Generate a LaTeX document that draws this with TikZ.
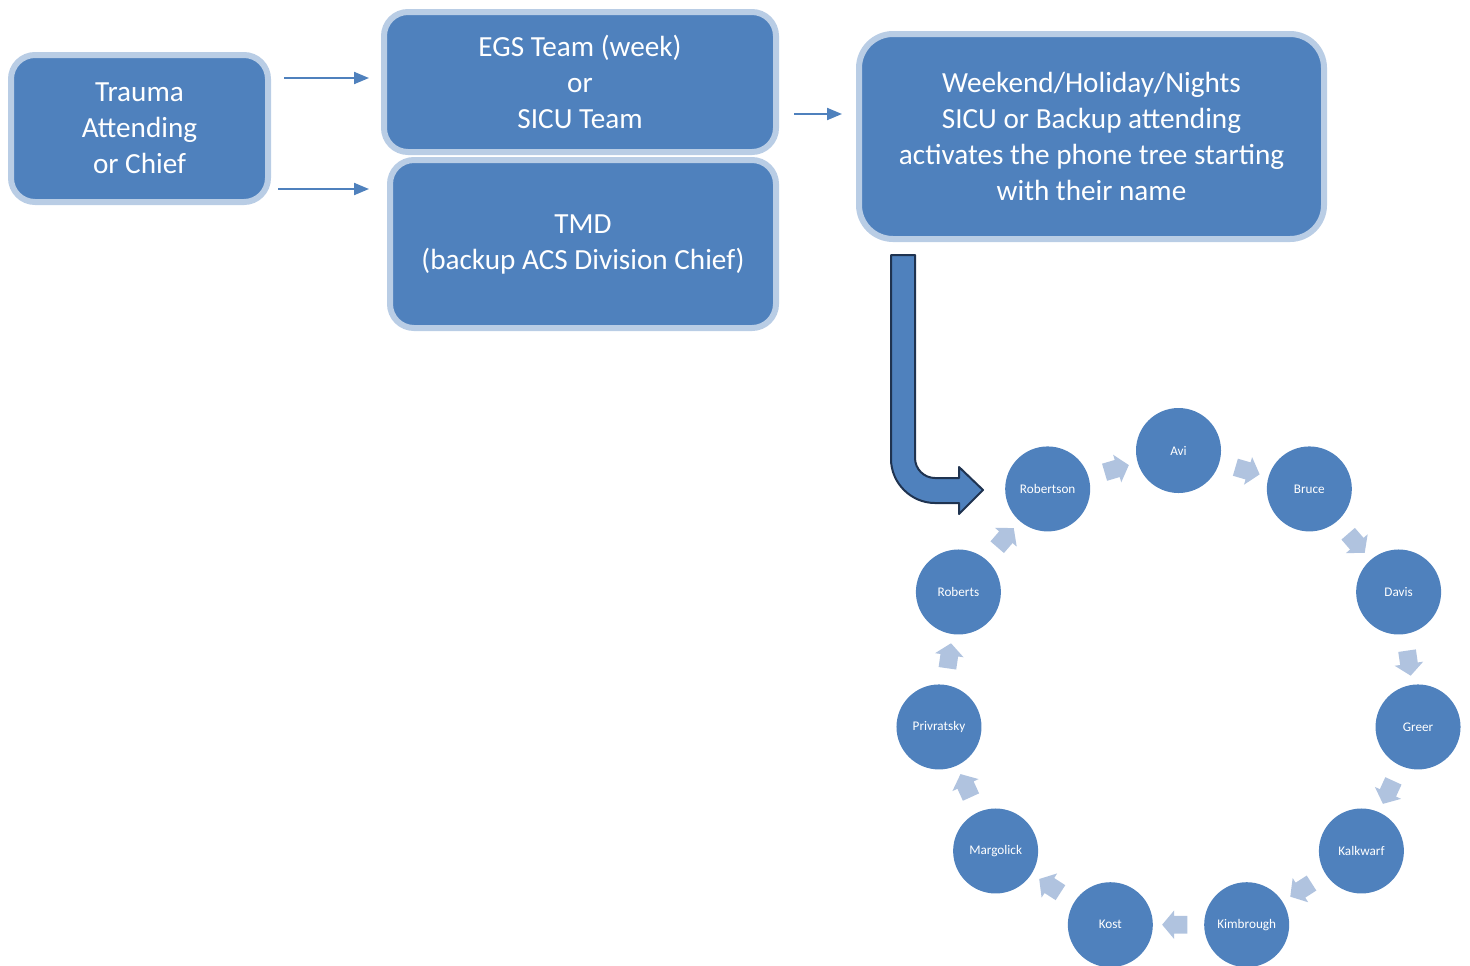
\documentclass[tikz,border=0pt]{standalone}
\usepackage{fontspec}
\setmainfont{Carlito}
\usetikzlibrary{arrows.meta,calc,shapes.arrows}

\definecolor{boxblue}{HTML}{4F81BD}
\definecolor{boxedge}{HTML}{B9CDE5}
\definecolor{hopblue}{HTML}{B0C3DF}
\definecolor{bentedge}{HTML}{1F3350}

\begin{document}
\begin{tikzpicture}[x=0.5pt, y=-0.5pt,
    box/.style={rectangle, rounded corners=12pt, fill=boxblue, draw=boxedge, line width=3pt,
        text=white, align=center, inner sep=0pt, font=\fontsize{14.6}{18}\selectfont},
    member/.style={circle, fill=boxblue, minimum size=42.5pt, inner sep=0pt,
        text=white, font=\fontsize{6.6}{8}\selectfont},
    hop/.style={single arrow, fill=hopblue, minimum height=12.5pt, inner sep=4.25pt,
        single arrow head extend=2.75pt, single arrow tip angle=100},
    link/.style={-{Triangle[length=7.5pt,width=6pt]}, draw=boxblue, line width=1pt}]
    \useasboundingbox (0,0) rectangle (1470,965);

    % boxes
    \node[box, minimum width=128.5pt, minimum height=73.5pt] (trauma) at (139.5,128.5) {Trauma\\Attending\\or Chief};
    \node[box, minimum width=196pt, minimum height=70pt] (egs) at (580,82) {EGS Team (week)\\or\\SICU Team};
    \node[box, minimum width=193pt, minimum height=84pt] (tmd) at (583,244) {TMD\\(backup ACS Division Chief)};
    \node[box, minimum width=232.5pt, minimum height=102.5pt, rounded corners=17pt] (wknd) at (1091.5,136.5)
        {Weekend/Holiday/Nights\\SICU or Backup attending\\activates the phone tree starting\\with their name};

    \coordinate (rowa) at (0,78);
    \coordinate (rowb) at (0,189);
    \coordinate (rowc) at (0,114);
    \draw[link, shorten <=6.5pt, shorten >=6pt] (trauma.east |- rowa) -- (egs.west |- rowa);
    \draw[link, shorten <=3.5pt, shorten >=9pt] (trauma.east |- rowb) -- (tmd.west |- rowb);
    \draw[link, shorten <=7.5pt, shorten >=7pt] (egs.east |- rowc) -- (wknd.west |- rowc);

    % bent arrow into the phone tree
    \draw[fill=boxblue, draw=bentedge, line width=1pt, line join=round]
        (891,255) -- (915,255) -- (915,458) .. controls (915,469) and (924,478) .. (935,478)
        -- (959,478) -- (959,467) -- (983,490) -- (959,514) -- (959,503) -- (935,503)
        .. controls (911,503) and (891,483) .. (891,459) -- cycle;

    % phone tree
    \coordinate (hub) at (1178.5,692.5);
    \foreach \who [count=\i from 0] in {Avi,Bruce,Davis,Greer,Kalkwarf,Kimbrough,Kost,Margolick,Privratsky,Roberts,Robertson} {
        \pgfmathsetmacro\a{-90+\i*360/11}
        \node[member] (m\i) at ([shift={(\a:242)}]hub) {\who};
    }
    \foreach \i in {0,...,10} {
        \pgfmathtruncatemacro\j{mod(\i+1,11)}
        \pgfmathsetmacro\r{-(\i+0.5)*360/11}
        \node[hop, rotate=\r] (h\i) at ($(m\i)!0.5!(m\j)$) {};
    }
\end{tikzpicture}
\end{document}
